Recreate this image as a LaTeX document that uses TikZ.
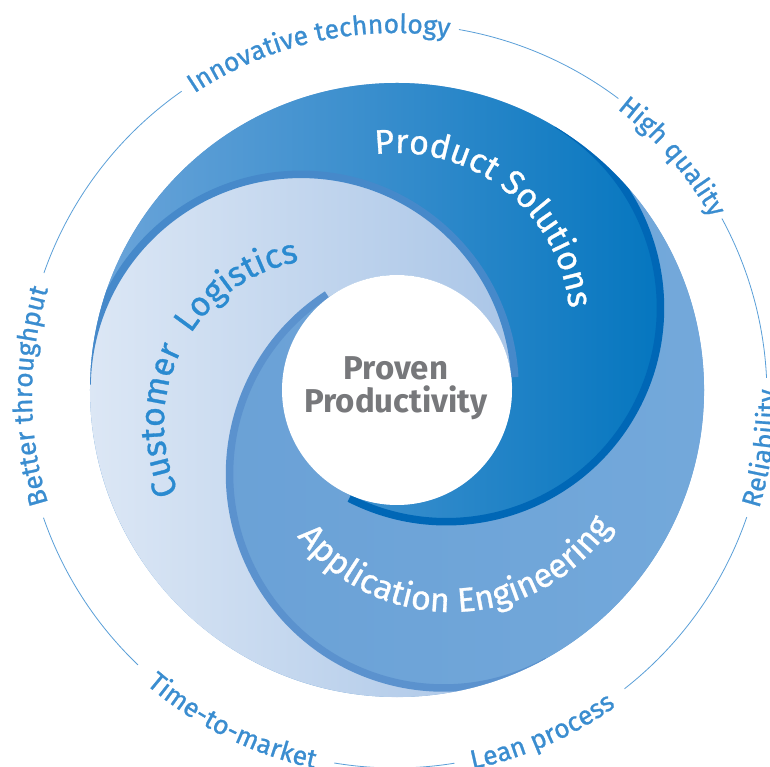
\documentclass[tikz,border=0pt]{standalone}
\usepackage{fontspec}
\setmainfont{Fira Sans}
\newfontfamily\labelfam{Fira Sans}[FakeBold=0.9]
\usetikzlibrary{decorations.text}
\definecolor{psA}{HTML}{6CA5DA}
\definecolor{psB}{HTML}{1E86CB}
\definecolor{psC}{HTML}{0074BE}
\definecolor{clA}{HTML}{DCE7F5}
\definecolor{clB}{HTML}{A6C3E6}
\definecolor{aeA}{HTML}{6AA1D6}
\definecolor{aeB}{HTML}{74A9DB}
\definecolor{psband}{HTML}{0067B6}
\definecolor{clband}{HTML}{4689CA}
\definecolor{aeband}{HTML}{5B92CE}
\definecolor{ringblue}{HTML}{3A8DD0}
\definecolor{ringline}{HTML}{5A9FD8}
\definecolor{cltext}{HTML}{2A8AD0}
\definecolor{centergray}{HTML}{77787B}
\newcommand\outerfnt{\labelfam\fontsize{26.5}{26.5}\selectfont}
\newcommand\innerfnt{\labelfam\fontsize{34}{34}\selectfont}
\tikzset{
  ringline/.style={draw=ringline, line width=0.8pt},
  bandline/.style={line width=7.5pt},
  outerlabel/.style={decorate, decoration={text along path, text align=center, text color=ringblue, text={|\outerfnt|#1}}},
  innerlabel/.style 2 args={decorate, decoration={text along path, text align=center, text color=#1, text={|\innerfnt|#2}}}
}
\begin{document}
\begin{tikzpicture}[x=1pt,y=1pt]
\useasboundingbox[fill=white] (-397,-377) rectangle (373,390);
% base disc
\fill[aeA] (0,0) circle[radius=307];
% Application Engineering region
\shade[left color=aeA, right color=aeB]
  (59:307) arc[start angle=59, end angle=-61, radius=307]
  arc[start angle=-61, end angle=-241, radius=211]
  arc[start angle=-241, end angle=-121, radius=115]
  arc[start angle=-121, end angle=59, radius=211] -- cycle;
% Product Solutions region
\shade[left color=psA, middle color=psB, right color=psC]
  (179:307) arc[start angle=179, end angle=59, radius=307]
  arc[start angle=59, end angle=-121, radius=211]
  arc[start angle=-121, end angle=-1, radius=115]
  arc[start angle=-1, end angle=179, radius=211] -- cycle;
% Customer Logistics region
\shade[left color=clA, right color=clB]
  (299:307) arc[start angle=299, end angle=179, radius=307]
  arc[start angle=179, end angle=-1, radius=211]
  arc[start angle=-1, end angle=119, radius=115]
  arc[start angle=119, end angle=299, radius=211] -- cycle;
% edge bands
\begin{scope}
  \clip (0,0) circle[radius=307];
  \draw[bandline, clband] (179:310) arc[start angle=179, end angle=3, radius=214];
  \draw[bandline, psband] (59:310) arc[start angle=59, end angle=-117, radius=214];
  \draw[bandline, aeband] (-61:310) arc[start angle=-61, end angle=-237, radius=214];
\end{scope}
% centre
\fill[white] (0,0) circle[radius=115];
\node[anchor=base, text=centergray, font=\bfseries\fontsize{33}{33}\selectfont] (proven) at (-1,10) {Proven};
\node[anchor=base, text=centergray, font=\bfseries\fontsize{33}{33}\selectfont] (productivity) at (-1,-23) {Productivity};
% outer ring
\begin{scope}[shift={(-2,-6)}]
  \draw[ringline] (125:372) arc[start angle=125, end angle=160.7, radius=372];
  \draw[ringline] (80.1:372) arc[start angle=80.1, end angle=53.1, radius=372];
  \draw[ringline] (28.5:372) arc[start angle=28.5, end angle=2.8, radius=372];
  \draw[ringline] (-19:372) arc[start angle=-19, end angle=-51.9, radius=372];
  \draw[ringline] (-80.8:372) arc[start angle=-80.8, end angle=-99.4, radius=372];
  \draw[ringline] (-133.7:372) arc[start angle=-133.7, end angle=-160.9, radius=372];
  \path[outerlabel={Innovative technology}] (137.5:363) arc[start angle=137.5, end angle=67.5, radius=363];
  \path[outerlabel={High quality}] (75.8:363) arc[start angle=75.8, end angle=5.8, radius=363];
  \path[outerlabel={Better throughput}] (215:363) arc[start angle=215, end angle=145, radius=363];
  \path[outerlabel={Reliability}] (-43.1:381) arc[start angle=-43.1, end angle=26.9, radius=381];
  \path[outerlabel={Lean process}] (-101.4:381) arc[start angle=-101.4, end angle=-31.4, radius=381];
  \path[outerlabel={Time-to-market}] (-151.5:381) arc[start angle=-151.5, end angle=-81.5, radius=381];
\end{scope}
% inner labels
\begin{scope}[shift={(0,64)}]
  \path[innerlabel={white}{Product Solutions}] (121.5:173) arc[start angle=121.5, end angle=-18.5, radius=173];
\end{scope}
\begin{scope}[shift={(-68,-34)}]
  \path[innerlabel={cltext}{Customer~~Logistics}] (227.4:165) arc[start angle=227.4, end angle=77.4, radius=165];
\end{scope}
\begin{scope}[shift={(54,-28)}]
  \path[innerlabel={white}{Application Engineering}] (-163.2:194) arc[start angle=-163.2, end angle=-13.2, radius=194];
\end{scope}
\end{tikzpicture}
\end{document}
